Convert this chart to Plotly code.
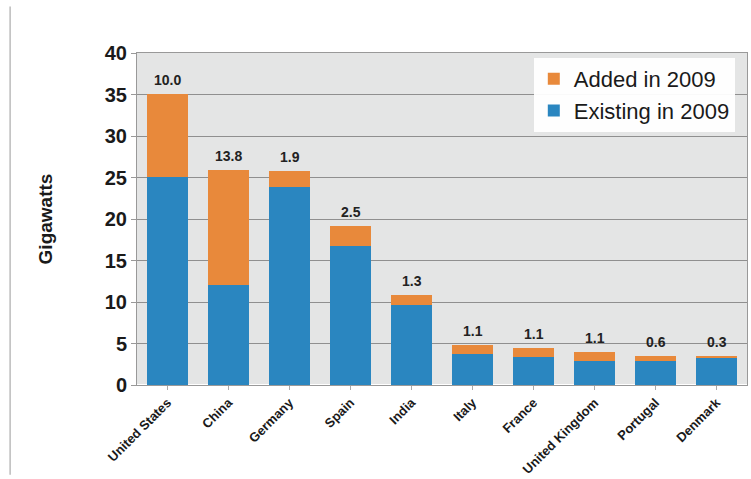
import plotly.graph_objects as go

countries = ["United States", "China", "Germany", "Spain", "India",
             "Italy", "France", "United Kingdom", "Portugal", "Denmark"]
existing = [25.1, 12.1, 23.9, 16.7, 9.6, 3.7, 3.4, 2.9, 2.9, 3.2]
added = [10.0, 13.8, 1.9, 2.5, 1.3, 1.1, 1.1, 1.1, 0.6, 0.3]
added_labels = ["10.0", "13.8", "1.9", "2.5", "1.3", "1.1", "1.1", "1.1", "0.6", "0.3"]
y_ticks = [0, 5, 10, 15, 20, 25, 30, 35, 40]

BLUE = "#2A86C0"
ORANGE = "#E8893B"
FONT = "Liberation Sans Narrow, Arial Narrow, Liberation Sans, sans-serif"

fig = go.Figure()
fig.add_trace(go.Bar(x=countries, y=existing, name="Existing in 2009",
                     marker=dict(color=BLUE, line=dict(width=0))))
fig.add_trace(go.Bar(x=countries, y=added, name="Added in 2009",
                     marker=dict(color=ORANGE, line=dict(width=0))))

for c, e, a, t in zip(countries, existing, added, added_labels):
    fig.add_annotation(x=c, y=e + a, text=t, showarrow=False, yanchor="bottom",
                       yshift=4, font=dict(family=FONT, size=14, color="#222", weight="bold"))

fig.add_shape(type="line", xref="paper", yref="paper", x0=-0.208, x1=-0.208,
              y0=-0.27, y1=1.14, line=dict(color="#bbbbbb", width=1.5))

fig.update_layout(
    width=751, height=479,
    margin=dict(l=137, r=4, t=53, b=94, autoexpand=False),
    barmode="stack", bargap=0.34,
    paper_bgcolor="white", plot_bgcolor="#E4E5E5",
    font=dict(family=FONT, color="#1a1a1a"),
    legend=dict(x=0.98, y=0.985, xanchor="right", yanchor="top",
                traceorder="reversed", bgcolor="rgba(255,255,255,0.95)",
                font=dict(family=FONT, size=22, color="#1a1a1a"),
                itemsizing="constant", tracegroupgap=0),
    yaxis=dict(range=[0, 40], tickvals=y_ticks, showgrid=True,
               gridcolor="#8f8f8f", gridwidth=1.4, automargin=False,
               tickfont=dict(family=FONT, size=20, color="#1a1a1a", weight="bold"),
               ticks="outside", ticklen=5, tickcolor="#999",
               showline=True, linecolor="#999", mirror=True,
               title=dict(text="Gigawatts", standoff=47,
                          font=dict(family=FONT, size=19, color="#1a1a1a", weight="bold"))),
    xaxis=dict(tickangle=-45, ticks="outside", ticklen=4, tickcolor="#aaa",
               automargin=False,
               tickfont=dict(family=FONT, size=13, color="#1a1a1a", weight="bold"),
               showline=True, linecolor="#999", mirror=True),
)

fig.write_html("out.html")
